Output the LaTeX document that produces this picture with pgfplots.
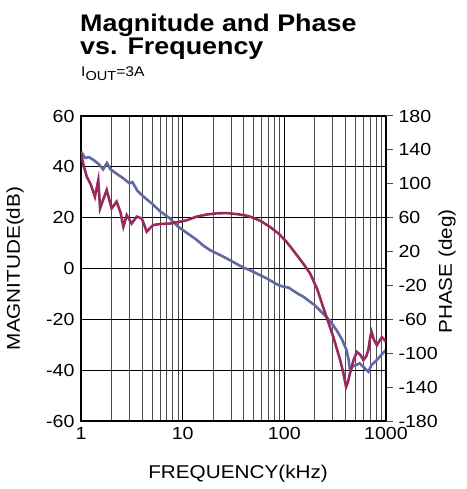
\documentclass[border=0pt]{standalone}
\usepackage{fontspec}
\setmainfont{Liberation Sans}[FakeStretch=1.12]
\usepackage{pgfplots}
\pgfplotsset{compat=1.18}
\definecolor{magblue}{RGB}{98,104,162}
\definecolor{phasered}{RGB}{152,42,94}
\begin{document}
\begin{tikzpicture}
\useasboundingbox (-81pt,-68pt) rectangle (385pt,421pt);
% magnitude, left axis
\begin{axis}[
  at={(0pt,0pt)}, anchor=south west,
  scale only axis, width=305pt, height=305pt,
  xmode=log, xmin=1, xmax=1000, ymin=-60, ymax=60,
  xtick={1,10,100,1000}, xticklabels={1,10,100,1000},
  minor xtick={2,3,4,5,6,7,8,9,20,30,40,50,60,70,80,90,200,300,400,500,600,700,800,900},
  ytick={-60,-40,...,60}, yticklabels={-60,-40,-20,0,20,40,60},
  ytick pos=left, xtick pos=bottom,
  major tick length=0pt, minor tick length=0pt,
  xmajorgrids, xminorgrids, ymajorgrids,
  minor grid style={draw=black!70, line width=0.9pt},
  major grid style={draw=black, line width=1pt},
  axis line style={line width=1.6pt},
  tick label style={font=\fontsize{17.5}{17.5}\selectfont},
  yticklabel style={xshift=-3pt},
  xticklabel style={yshift=-3pt},
  xlabel={FREQUENCY(kHz)},
  xlabel style={at={(axis description cs:0.515,-0.187)}, anchor=base, font=\fontsize{18.5}{18.5}\selectfont},
  ylabel={MAGNITUDE(dB)},
  ylabel style={at={(axis description cs:-0.216,0.5)}, anchor=center, font=\fontsize{18.5}{18.5}\selectfont},
]
\addplot[color=magblue, line width=2.6pt] coordinates {
(1,46) (1.1,43.5) (1.2,43.8) (1.35,42.5) (1.5,41) (1.65,39) (1.8,41.5)
(1.95,39) (2.2,37.5) (2.6,35.5) (3.0,33.5) (3.2,34) (3.6,30.5) (4.2,28)
(5.0,25.5) (6.0,22.5) (7.5,19.7) (9,16.5) (11,14) (13.5,11.5) (16,9)
(18.6,7.2) (21.5,6) (25,4.7) (30,3) (35,1.5) (40,0.3) (46,-0.7) (55,-2.2)
(65,-3.6) (75,-5) (85,-6.3) (98,-7.2) (110,-7.5) (125,-9) (140,-10.2)
(154,-11.1) (175,-12.8) (200,-14.5) (240,-17.7) (280,-20.5) (327,-24.3)
(370,-28) (409,-32.1) (430,-36) (442,-40) (470,-38.5) (510,-38) (550,-37.3)
(610,-39) (670,-40.6) (720,-38) (813,-36) (900,-34) (1000,-32)
};
\end{axis}
% phase, right axis
\begin{axis}[
  at={(0pt,0pt)}, anchor=south west,
  scale only axis, width=305pt, height=305pt,
  xmode=log, xmin=1, xmax=1000, ymin=-180, ymax=180,
  axis x line=none, axis y line*=right,
  axis line style={line width=1.6pt},
  ytick={-180,-140,...,180},
  yticklabels={-180,-140,-100,-60,-20,20,60,100,140,180},
  tick align=outside, major tick length=7pt,
  major tick style={black!70, line width=1pt},
  tick label style={font=\fontsize{17.5}{17.5}\selectfont},
  yticklabel style={xshift=2pt},
  ylabel={PHASE (deg)},
  ylabel style={at={(axis description cs:1.2,0.49)}, anchor=center, font=\fontsize{18.5}{18.5}\selectfont},
]
\addplot[color=phasered, line width=2.6pt] coordinates {
(1,135.9) (1.07,120) (1.14,108.3) (1.25,99) (1.37,84.6) (1.48,104.4)
(1.54,70.8) (1.65,81) (1.79,92.7) (1.9,81) (2.0,70.8) (2.24,78.9) (2.45,66)
(2.61,49.2) (2.82,63) (3.15,53.1) (3.53,61.2) (3.96,59.1) (4.2,51) (4.43,43.5)
(4.8,48) (5.15,51.3) (6,52.5) (7.5,53.1) (9.4,55.2) (11,57) (13.7,61.2)
(17,63.6) (21.6,65.1) (27,65.4) (34,64.2) (40,63) (46,61.2) (58,56.4)
(72,49.2) (88,41.1) (105,31.5) (122,21.6) (153,6) (179,-5.7) (210,-24)
(240,-45) (270,-63) (303,-80.7) (354,-108) (380,-123) (405,-139.8)
(420,-135) (442,-123.9) (480,-108) (516,-98.4) (560,-102) (600,-108)
(640,-103.5) (670,-96.3) (700,-81) (720,-74.7) (760,-84) (813,-90.6)
(860,-85.5) (910,-81) (960,-84) (1000,-87)
};
\end{axis}
\node[anchor=base west, inner sep=0pt, font=\fontsize{24}{24}\selectfont\bfseries] at (-1pt,389pt) {Magnitude and Phase};
\node[anchor=base west, inner sep=0pt, font=\fontsize{24}{24}\selectfont\bfseries] at (-1pt,366pt) {vs. Frequency};
\node[anchor=base west, inner sep=0pt, font=\fontsize{14}{14}\selectfont] at (0pt,344pt) {I\raisebox{-3.5pt}{\fontsize{13}{13}\selectfont OUT}=3A};
\end{tikzpicture}
\end{document}
